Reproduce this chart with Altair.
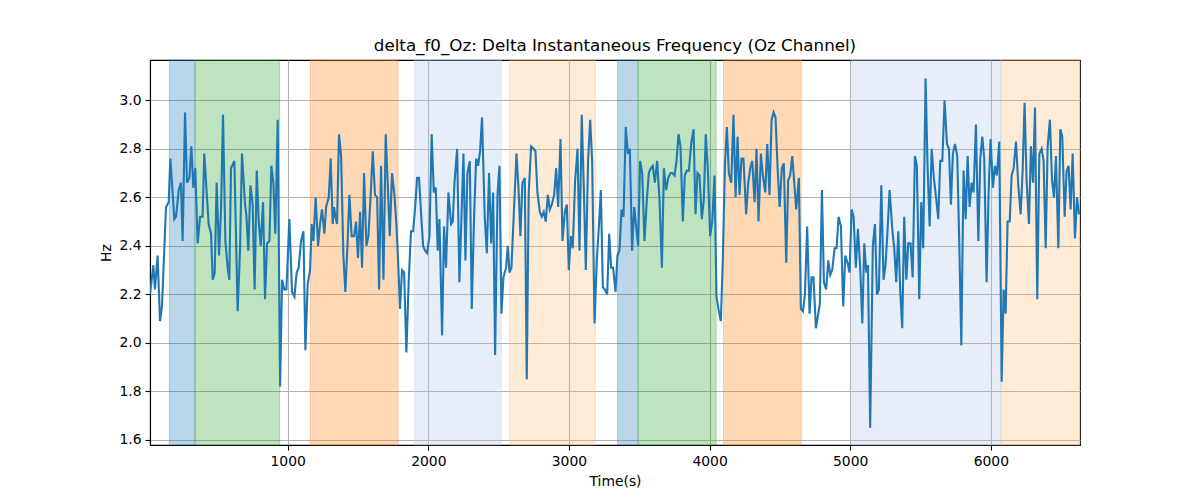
import pandas as pd
import altair as alt

# Time(s) samples and delta f0 (Hz)
time_s = [
    21, 45, 56, 75, 92, 106, 135, 154, 166, 194,
    206, 225, 241, 253, 270, 284, 301, 315, 329, 343,
    360, 377, 395, 407, 438, 455, 467, 481, 495, 512,
    526, 540, 557, 573, 585, 597, 621, 644, 661, 675,
    697, 706, 720, 735, 751, 765, 780, 794, 808, 825,
    839, 853, 870, 884, 898, 912, 929, 946, 960, 976,
    991,
    1012, 1031, 1048, 1064, 1078, 1095, 1112, 1126, 1142, 1159,
    1171, 1183, 1199, 1216, 1230, 1244, 1261, 1273, 1292, 1306,
    1320, 1330, 1339, 1351, 1365, 1380, 1396, 1410, 1425, 1439,
    1455, 1472, 1486, 1500, 1515, 1529, 1543, 1560, 1574, 1591,
    1605, 1621, 1636, 1650, 1664, 1681, 1697, 1709, 1726, 1742,
    1759, 1773, 1785, 1799, 1813, 1828, 1844, 1861, 1877, 1892,
    1908, 1920, 1934, 1949, 1963, 1977, 1991, 2008, 2024, 2039,
    2053, 2067,
    2079, 2098, 2112, 2126, 2143, 2162, 2174, 2186, 2205, 2221,
    2250, 2264, 2278, 2295, 2309, 2326, 2340, 2354, 2368, 2382,
    2401, 2416, 2432, 2447, 2461, 2475, 2492, 2506, 2520, 2534,
    2553, 2565, 2577, 2591, 2610, 2627, 2641, 2655, 2669, 2686,
    2700, 2714, 2731, 2748, 2762, 2776, 2793, 2807, 2821, 2835,
    2850, 2864, 2878, 2895, 2909, 2923, 2940, 2954, 2971, 2985,
    2999, 3013, 3027, 3044, 3061, 3075, 3091, 3106, 3120, 3136,
    3151, 3165, 3182, 3198, 3212, 3227, 3241, 3255, 3272, 3286,
    3300, 3314, 3331, 3345, 3359, 3374, 3388, 3404, 3419, 3433,
    3449, 3464, 3478, 3492, 3506, 3521, 3537, 3554, 3568, 3582,
    3596, 3611, 3627, 3644, 3661, 3675, 3691, 3706, 3722, 3736,
    3751, 3765, 3779, 3793, 3810, 3824, 3838, 3853, 3869, 3886,
    3900, 3914, 3928, 3945, 3959, 3973, 3988, 4004, 4019, 4035,
    4049, 4066, 4080, 4094, 4109, 4123, 4137, 4154, 4170, 4185,
    4199,
    4213, 4227, 4241, 4260, 4275, 4289, 4303, 4320, 4334, 4348,
    4365, 4379, 4396, 4410, 4426, 4441, 4455, 4469, 4483, 4498,
    4514, 4528, 4545, 4559, 4573, 4588, 4602, 4616, 4635, 4649,
    4664, 4678, 4694, 4711, 4725, 4739, 4756, 4770, 4784, 4799,
    4813, 4829, 4844, 4858, 4872, 4889, 4903, 4917, 4934, 4950,
    4965, 4981, 4995, 5010, 5024, 5040, 5055, 5071, 5086, 5100,
    5114, 5126, 5142, 5161, 5176, 5190, 5204, 5221, 5237, 5251,
    5266,
    5280, 5299, 5313, 5327, 5342, 5356, 5370, 5384, 5399, 5413,
    5429, 5444, 5460, 5474, 5491, 5505, 5519, 5536, 5550, 5565,
    5579, 5595, 5612, 5626, 5640, 5655, 5671, 5688, 5702, 5716,
    5730, 5745, 5761, 5776, 5790, 5806, 5821, 5835, 5849, 5863,
    5877, 5894, 5911, 5925, 5939, 5953, 5970, 5984, 5998, 6015,
    6029, 6043, 6060, 6077, 6091, 6105, 6119, 6134, 6148, 6162,
    6179, 6195, 6212, 6226, 6240, 6254, 6271, 6285, 6300, 6314,
    6330, 6345, 6361, 6375, 6390, 6404, 6420, 6435, 6449, 6463,
    6480, 6494, 6508, 6525, 6539, 6553, 6567, 6582, 6598, 6613,
    6627,
]
delta_f0 = [
    2.20, 2.32, 2.22, 2.36, 2.09, 2.15, 2.56, 2.58, 2.76, 2.51,
    2.52, 2.63, 2.66, 2.42, 2.95, 2.66, 2.68, 2.81, 2.64, 2.72,
    2.41, 2.52, 2.52, 2.78, 2.49, 2.45, 2.26, 2.29, 2.66, 2.36,
    2.55, 2.94, 2.42, 2.31, 2.26, 2.72, 2.75, 2.13, 2.38, 2.78,
    2.57, 2.53, 2.38, 2.65, 2.57, 2.22, 2.71, 2.50, 2.40, 2.58,
    2.18, 2.41, 2.42, 2.73, 2.66, 2.45, 2.92, 1.82, 2.26, 2.22,
    2.22,
    2.51, 2.21, 2.19, 2.29, 2.31, 2.42, 2.46, 1.97, 2.24, 2.30,
    2.49, 2.42, 2.60, 2.40, 2.49, 2.55, 2.45, 2.56, 2.60, 2.76,
    2.49, 2.56, 2.52, 2.49, 2.86, 2.77, 2.36, 2.21, 2.40, 2.61,
    2.44, 2.44, 2.50, 2.35, 2.54, 2.31, 2.70, 2.40, 2.44, 2.62,
    2.79, 2.61, 2.60, 2.22, 2.73, 2.26, 2.86, 2.69, 2.44, 2.70,
    2.61, 2.49, 2.34, 2.14, 2.30, 2.29, 1.96, 2.26, 2.46, 2.46,
    2.57, 2.68, 2.68, 2.53, 2.40, 2.38, 2.37, 2.44, 2.86, 2.62,
    2.64, 2.38,
    2.51, 2.03, 2.48, 2.31, 2.62, 2.49, 2.50, 2.66, 2.80, 2.25,
    2.78, 2.34, 2.70, 2.75, 2.14, 2.53, 2.76, 2.73, 2.79, 2.93,
    2.52, 2.37, 2.70, 2.41, 2.62, 1.95, 2.61, 2.73, 2.12, 2.27,
    2.31, 2.40, 2.29, 2.31, 2.56, 2.78, 2.64, 2.44, 2.66, 2.68,
    1.85, 2.62, 2.81, 2.80, 2.79, 2.62, 2.54, 2.52, 2.54, 2.50,
    2.61, 2.55, 2.57, 2.61, 2.72, 2.56, 2.84, 2.42, 2.54, 2.57,
    2.30, 2.44, 2.39, 2.67, 2.80, 2.38, 2.94, 2.63, 2.30, 2.75,
    2.92, 2.75, 2.08, 2.34, 2.47, 2.63, 2.23, 2.22, 2.20, 2.45,
    2.31, 2.31, 2.21, 2.36, 2.38, 2.55, 2.52, 2.89, 2.78, 2.80,
    2.38, 2.56, 2.48, 2.40, 2.75, 2.70, 2.42, 2.59, 2.70, 2.72,
    2.73, 2.66, 2.75, 2.59, 2.31, 2.72, 2.63, 2.68, 2.70, 2.70,
    2.69, 2.75, 2.86, 2.81, 2.50, 2.69, 2.71, 2.71, 2.82, 2.88,
    2.53, 2.70, 2.69, 2.51, 2.59, 2.86, 2.71, 2.44, 2.50, 2.69,
    2.19, 2.13, 2.09, 2.34, 2.73, 2.89, 2.70, 2.66, 2.94, 2.60,
    2.85,
    2.61, 2.76, 2.76, 2.53, 2.66, 2.72, 2.75, 2.58, 2.80, 2.50,
    2.78, 2.69, 2.62, 2.82, 2.61, 2.92, 2.95, 2.93, 2.73, 2.56,
    2.72, 2.74, 2.33, 2.67, 2.69, 2.77, 2.66, 2.55, 2.68, 2.14,
    2.13, 2.20, 2.48, 2.12, 2.27, 2.27, 2.06, 2.11, 2.16, 2.63,
    2.25, 2.22, 2.34, 2.28, 2.30, 2.39, 2.39, 2.52, 2.48, 2.15,
    2.36, 2.33, 2.29, 2.55, 2.52, 2.31, 2.47, 2.31, 2.08, 2.41,
    2.29, 2.32, 1.65, 2.40, 2.49, 2.20, 2.22, 2.65, 2.26, 2.32,
    2.47,
    2.63, 2.47, 2.39, 2.25, 2.46, 2.21, 2.06, 2.52, 2.26, 2.41,
    2.41, 2.27, 2.77, 2.73, 2.18, 2.58, 2.39, 3.09, 2.73, 2.48,
    2.80, 2.68, 2.59, 2.51, 2.75, 2.75, 3.00, 2.82, 2.80, 2.57,
    2.78, 2.82, 2.77, 2.40, 1.99, 2.71, 2.51, 2.77, 2.56, 2.66,
    2.62, 2.90, 2.42, 2.76, 2.85, 2.76, 2.25, 2.62, 2.84, 2.64,
    2.73, 2.69, 2.83, 1.84, 2.22, 2.12, 2.50, 2.50, 2.69, 2.72,
    2.83, 2.65, 2.53, 2.71, 2.99, 2.67, 2.49, 2.81, 2.66, 2.97,
    2.18, 2.78, 2.80, 2.75, 2.39, 2.81, 2.92, 2.67, 2.60, 2.77,
    2.39, 2.88, 2.85, 2.52, 2.71, 2.73, 2.55, 2.78, 2.43, 2.60,
    2.53,
]

# shaded segments (start, end in seconds) and their state label
span_start = [158, 341, 1161, 1901, 2577, 3345, 3492, 4099, 5012, 6072]
span_end = [341, 943, 1785, 2520, 3189, 3492, 4047, 4652, 6072, 6634]
span_state = ["s1", "s2", "s3", "s4", "s5", "s1", "s2", "s3", "s4", "s5"]

states = ["s1", "s2", "s3", "s4", "s5"]
state_colors = ["#1f77b4", "#2ca02c", "#ff7f0e", "#aec7e8", "#ffbb78"]

x_ticks = [1000, 2000, 3000, 4000, 5000, 6000]
y_ticks = [1.6, 1.8, 2.0, 2.2, 2.4, 2.6, 2.8, 3.0]

assert len(time_s) == len(delta_f0)

df = pd.DataFrame({"time": time_s, "hz": delta_f0})
df_spans = pd.DataFrame({"start": span_start, "end": span_end, "state": span_state})

x_scale = alt.Scale(domain=[21, 6634], nice=False, zero=False)
y_scale = alt.Scale(domain=[1.579, 3.166], nice=False, zero=False)
x_axis = alt.Axis(values=x_ticks, format="d", title="Time(s)")
y_axis = alt.Axis(values=y_ticks, format=".1f", title="Hz")
state_scale = alt.Scale(domain=states, range=state_colors)

spans = alt.Chart(df_spans).mark_rect(strokeWidth=1).encode(
    x=alt.X("start:Q", scale=x_scale, axis=x_axis),
    x2="end:Q",
    color=alt.Color("state:N", scale=state_scale, legend=None),
    stroke=alt.Stroke("state:N", scale=state_scale, legend=None),
    fillOpacity=alt.value(0.3),
    strokeOpacity=alt.value(0.3),
)

line = alt.Chart(df).mark_line(color="#1f77b4", strokeWidth=2.1, clip=True).encode(
    x=alt.X("time:Q", scale=x_scale, axis=x_axis),
    y=alt.Y("hz:Q", scale=y_scale, axis=y_axis),
)

chart = (spans + line).properties(
    title="delta_f0_Oz: Delta Instantaneous Frequency (Oz Channel)",
    width=930,
    height=385,
    autosize=alt.AutoSizeParams(type="none"),
    padding={"left": 142, "top": 52, "right": 20, "bottom": 55},
).configure_view(
    stroke="black", strokeWidth=1.1
).configure_axis(
    grid=True,
    gridColor="#b0b0b0",
    gridWidth=1.1,
    domainColor="black",
    domainWidth=1.1,
    tickColor="black",
    tickWidth=1.1,
    tickSize=5,
    labelFont="DejaVu Sans",
    labelFontSize=13.9,
    labelColor="black",
    labelPadding=4,
    labelFlush=False,
    labelOverlap=False,
    titleFont="DejaVu Sans",
    titleFontSize=13.9,
    titleFontWeight="normal",
    titleColor="black",
).configure_axisX(
    titlePadding=7
).configure_axisY(
    titlePadding=5
).configure_title(
    font="DejaVu Sans",
    fontSize=16.7,
    fontWeight="normal",
    color="black",
    anchor="middle",
    offset=5,
)

chart.save("out.html", embed_options={"renderer": "svg", "actions": False})
